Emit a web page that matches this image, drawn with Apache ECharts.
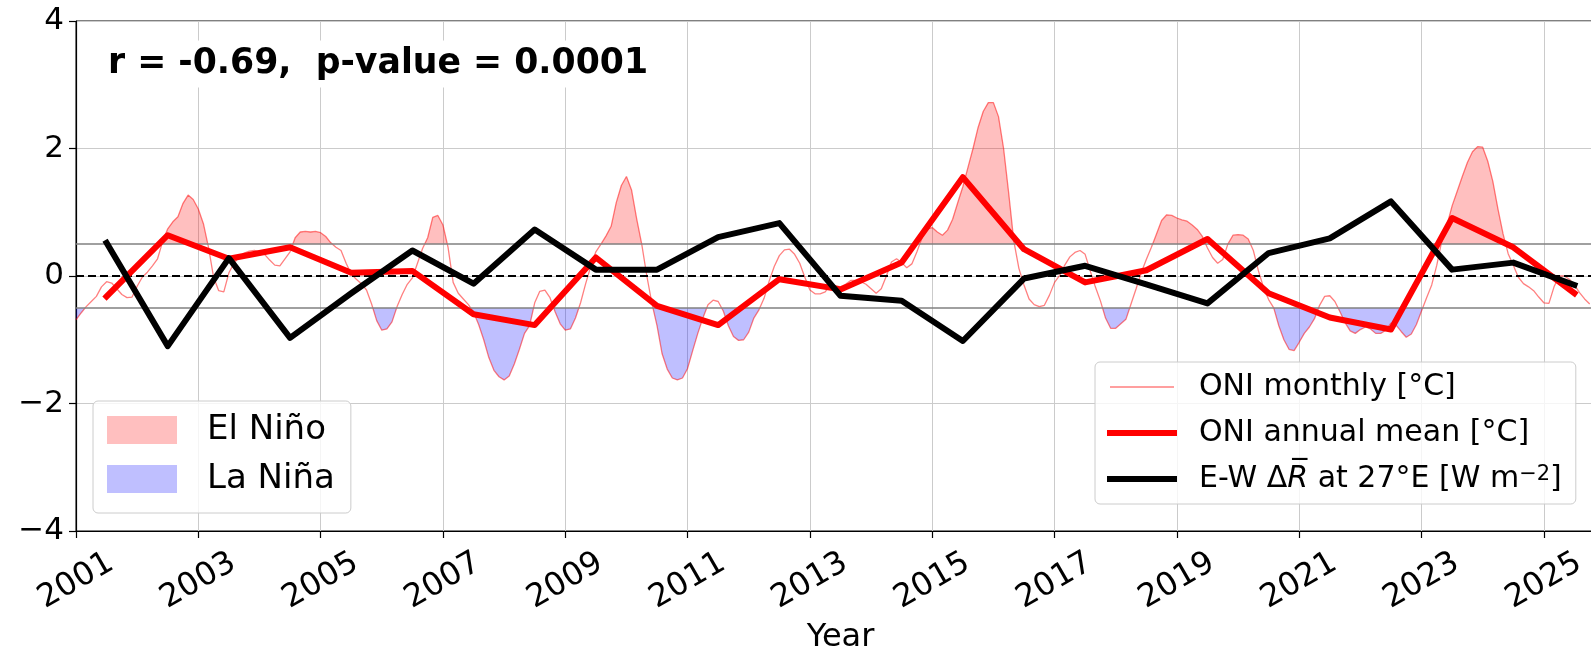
<!DOCTYPE html>
<html>
<head>
<meta charset="utf-8">
<script src="https://cdn.jsdelivr.net/npm/echarts@6/dist/echarts.min.js"></script>
<style>
  html, body { margin: 0; padding: 0; background: #fff; }
  #chart { width: 1591px; height: 653px; }
</style>
</head>
<body>
<div id="chart"></div>
<script>
// Monthly ONI [°C], January 2001 onward
const oniStartYear = 2001;
const oniMonthly = [
  -0.69, -0.58, -0.48, -0.40, -0.32, -0.17, -0.09, -0.11, -0.20, -0.29, -0.34, -0.33, // 2001
  -0.16, -0.02, 0.06, 0.16, 0.27, 0.54, 0.74, 0.85, 0.93, 1.14, 1.27, 1.20,           // 2002
  1.05, 0.82, 0.45, -0.02, -0.23, -0.25, 0.05, 0.20, 0.30, 0.36, 0.39, 0.40,          // 2003
  0.38, 0.34, 0.25, 0.17, 0.16, 0.27, 0.38, 0.60, 0.69, 0.70, 0.69, 0.70,             // 2004
  0.68, 0.62, 0.52, 0.45, 0.40, 0.20, 0.03, -0.05, -0.12, -0.22, -0.44, -0.70,        // 2005
  -0.85, -0.83, -0.72, -0.48, -0.29, -0.13, -0.03, 0.20, 0.43, 0.60, 0.92, 0.95,      // 2006
  0.80, 0.45, -0.10, -0.27, -0.36, -0.45, -0.57, -0.76, -1.00, -1.28, -1.48, -1.58,   // 2007
  -1.63, -1.57, -1.38, -1.15, -0.90, -0.78, -0.42, -0.24, -0.22, -0.34, -0.56, -0.75, // 2008
  -0.85, -0.83, -0.66, -0.42, -0.12, 0.15, 0.38, 0.50, 0.63, 0.78, 1.15, 1.42,        // 2009
  1.56, 1.35, 0.90, 0.50, 0.00, -0.43, -0.78, -1.22, -1.46, -1.60, -1.63, -1.60,      // 2010
  -1.45, -1.17, -0.90, -0.66, -0.45, -0.38, -0.40, -0.55, -0.78, -0.95, -1.01, -1.00, // 2011
  -0.88, -0.66, -0.53, -0.35, -0.08, 0.15, 0.32, 0.41, 0.42, 0.34, 0.20, -0.02,       // 2012
  -0.22, -0.28, -0.28, -0.25, -0.14, -0.15, -0.17, -0.13, -0.07, -0.07, -0.09, -0.13, // 2013
  -0.20, -0.27, -0.20, 0.00, 0.22, 0.27, 0.21, 0.13, 0.19, 0.38, 0.60, 0.74,          // 2014
  0.76, 0.69, 0.64, 0.72, 0.89, 1.15, 1.40, 1.70, 2.00, 2.33, 2.58, 2.72,             // 2015
  2.72, 2.50, 2.00, 1.30, 0.55, 0.12, -0.14, -0.36, -0.45, -0.48, -0.46, -0.30,       // 2016
  -0.10, 0.01, 0.17, 0.30, 0.37, 0.40, 0.34, 0.08, -0.17, -0.39, -0.66, -0.82,        // 2017
  -0.82, -0.75, -0.68, -0.44, -0.20, 0.05, 0.26, 0.45, 0.66, 0.87, 0.96, 0.95,        // 2018
  0.91, 0.88, 0.86, 0.80, 0.73, 0.62, 0.44, 0.29, 0.20, 0.26, 0.50, 0.64,             // 2019
  0.65, 0.64, 0.58, 0.40, 0.08, -0.18, -0.37, -0.50, -0.78, -1.00, -1.15, -1.17,      // 2020
  -1.04, -0.90, -0.80, -0.67, -0.46, -0.32, -0.31, -0.40, -0.56, -0.73, -0.86, -0.90, // 2021
  -0.84, -0.80, -0.83, -0.90, -0.90, -0.85, -0.74, -0.77, -0.87, -0.96, -0.91, -0.76, // 2022
  -0.55, -0.34, -0.14, 0.17, 0.56, 0.80, 1.10, 1.33, 1.56, 1.78, 1.95, 2.03,          // 2023
  2.02, 1.80, 1.48, 1.05, 0.66, 0.35, 0.17, -0.02, -0.12, -0.17, -0.23, -0.33,        // 2024
  -0.42, -0.43, -0.17, 0.00, 0.00, -0.05, -0.14, -0.26, -0.36, -0.44                  // 2025
];

// Annual series, plotted at mid-year
const annualYears = [2001, 2002, 2003, 2004, 2005, 2006, 2007, 2008, 2009, 2010, 2011, 2012, 2013,
                     2014, 2015, 2016, 2017, 2018, 2019, 2020, 2021, 2022, 2023, 2024, 2025];
const oniAnnual = [-0.32, 0.64, 0.27, 0.45, 0.05, 0.08, -0.60, -0.77, 0.29, -0.47, -0.77, -0.05, -0.21,
                   0.21, 1.55, 0.42, -0.10, 0.09, 0.58, -0.27, -0.65, -0.84, 0.91, 0.45, -0.27];
const ewDeltaR = [0.52, -1.10, 0.28, -0.97, -0.27, 0.40, -0.12, 0.73, 0.10, 0.10, 0.61, 0.83, -0.31,
                  -0.39, -1.02, -0.04, 0.16, -0.13, -0.43, 0.36, 0.59, 1.17, 0.10, 0.21, -0.14];

// Axes
const xTickYears = [2001, 2003, 2005, 2007, 2009, 2011, 2013, 2015, 2017, 2019, 2021, 2023, 2025];
const xRange = [2001, 2026];
const yRange = [-4, 4];
const yStep = 2;

// ENSO thresholds
const elNinoThreshold = 0.5;
const laNinaThreshold = -0.5;

const names = {
  nino: 'El Niño',
  nina: 'La Niña',
  monthly: 'ONI monthly [°C]',
  annual: 'ONI annual mean [°C]',
  ew: 'E-W ΔR at 27°E [W m−2]'
};
const statsText = 'r = -0.69,  p-value = 0.0001';

const FONT = 'DejaVu Sans';

const monthlyPts = oniMonthly.map((v, i) => [oniStartYear + i / 12, v]);
const annualOniPts = annualYears.map((y, i) => [y + 0.5, oniAnnual[i]]);
const ewPts = annualYears.map((y, i) => [y + 0.5, ewDeltaR[i]]);

// Point where the segment a-b crosses the level thr
function crossing(a, b, thr) {
  const f = (thr - a[1]) / (b[1] - a[1]);
  return [a[0] + f * (b[0] - a[0]), thr];
}

// Shade the area between the monthly curve and a threshold, above or below it
function thresholdFill(thr, above, color) {
  return function (params, api) {
    if (params.dataIndex !== 0) return null;
    const polys = [];
    let cur = null;
    for (let i = 0; i < monthlyPts.length; i++) {
      const p = monthlyPts[i];
      const inside = above ? p[1] > thr : p[1] < thr;
      if (inside) {
        if (!cur) {
          cur = [i > 0 ? crossing(monthlyPts[i - 1], p, thr) : [p[0], thr]];
        }
        cur.push(p);
      } else if (cur) {
        cur.push(crossing(monthlyPts[i - 1], p, thr));
        polys.push(cur);
        cur = null;
      }
    }
    if (cur) {
      cur.push([monthlyPts[monthlyPts.length - 1][0], thr]);
      polys.push(cur);
    }
    return {
      type: 'group',
      children: polys.map(poly => ({
        type: 'polygon',
        shape: { points: poly.map(pt => api.coord(pt)) },
        style: { fill: color }
      }))
    };
  };
}

const ninoColor = 'rgba(255,0,0,0.25)';
const ninaColor = 'rgba(0,0,255,0.25)';

const chart = echarts.init(document.getElementById('chart'), null, { renderer: 'canvas' });

chart.setOption({
  animation: false,
  backgroundColor: '#ffffff',
  textStyle: { fontFamily: FONT, color: '#000' },
  // the plot box runs a little past the right edge of the canvas
  grid: {
    left: 76, top: 21, width: 1529, height: 510,
    outerBoundsMode: 'none',
    containLabel: false,
    show: true, borderColor: '#000', borderWidth: 1, backgroundColor: 'transparent'
  },
  xAxis: {
    type: 'value',
    min: xRange[0], max: xRange[1],
    name: 'Year',
    nameLocation: 'middle',
    nameGap: 91,
    nameTextStyle: { fontSize: 32, color: '#000', fontFamily: FONT },
    axisLine: { show: true, onZero: false, lineStyle: { color: '#000', width: 1.2 } },
    axisTick: { show: true, customValues: xTickYears, length: 7, lineStyle: { color: '#000', width: 1.2 } },
    axisLabel: {
      customValues: xTickYears,
      rotate: 30, align: 'center', verticalAlign: 'middle', margin: 50,
      fontSize: 32, color: '#000', fontFamily: FONT,
      formatter: v => String(v)
    },
    splitLine: { show: true, lineStyle: { color: '#cbcbcb', width: 1 } }
  },
  yAxis: {
    type: 'value',
    min: yRange[0], max: yRange[1], interval: yStep,
    axisLine: { show: true, onZero: false, lineStyle: { color: '#000', width: 1.2 } },
    axisTick: { show: true, length: 7, lineStyle: { color: '#000', width: 1.2 } },
    axisLabel: {
      margin: 12, fontSize: 31, color: '#000', fontFamily: FONT,
      formatter: v => (v < 0 ? '\u2212' + Math.abs(v) : String(v))
    },
    splitLine: { show: true, lineStyle: { color: '#cbcbcb', width: 1 } }
  },
  legend: [
    {
      data: [{ name: names.nino, icon: 'rect' }, { name: names.nina, icon: 'rect' }],
      orient: 'vertical',
      left: 93, top: 401,
      itemWidth: 70, itemHeight: 28, itemGap: 15,
      padding: [12, 16, 17, 14],
      backgroundColor: 'rgba(255,255,255,0.8)',
      borderColor: '#cccccc', borderWidth: 1, borderRadius: 5,
      selectedMode: false,
      textStyle: { fontSize: 34, color: '#000', fontFamily: FONT, padding: [0, 0, 0, 25] }
    },
    {
      data: [names.monthly, names.annual, names.ew],
      orient: 'vertical',
      left: 1095, top: 362,
      itemWidth: 64, itemHeight: 20, itemGap: 16,
      padding: [10, 14, 10, 12],
      backgroundColor: 'rgba(255,255,255,0.8)',
      borderColor: '#cccccc', borderWidth: 1, borderRadius: 5,
      selectedMode: false,
      itemStyle: { opacity: 0 },
      lineStyle: { width: 'inherit' },
      textStyle: {
        fontSize: 30, color: '#000', fontFamily: FONT, padding: [0, 0, 0, 20],
        rich: {
          it: { fontSize: 30, fontStyle: 'italic', fontFamily: FONT, color: '#000' },
          sup: { fontSize: 21, fontFamily: FONT, color: '#000', verticalAlign: 'top' }
        }
      },
      formatter: name => name === names.ew
        ? 'E-W Δ{it|R\u0305} at 27°E [W m{sup|\u22122}]'
        : name
    }
  ],
  graphic: [
    {
      // correlation note on a white box that masks the grid lines behind it
      type: 'text',
      x: 100, y: 64,
      z: 100,
      silent: true,
      style: {
        text: statsText,
        font: 'bold 34.7px "DejaVu Sans"',
        fill: '#000',
        align: 'left',
        verticalAlign: 'middle',
        backgroundColor: '#ffffff',
        padding: [6, 10, 6, 8]
      }
    }
  ],
  series: [
    {
      // reference levels: ±0.5 °C thresholds and zero
      type: 'line',
      data: [],
      silent: true,
      z: 2,
      markLine: {
        silent: true,
        symbol: ['none', 'none'],
        label: { show: false },
        emphasis: { disabled: true },
        data: [
          { yAxis: elNinoThreshold, lineStyle: { color: '#808080', width: 1.5, type: 'solid' } },
          { yAxis: laNinaThreshold, lineStyle: { color: '#808080', width: 1.5, type: 'solid' } },
          { yAxis: 0, lineStyle: { color: '#000', width: 2, type: [8, 4] } }
        ]
      }
    },
    {
      name: names.nino,
      type: 'custom',
      data: monthlyPts,
      renderItem: thresholdFill(elNinoThreshold, true, ninoColor),
      itemStyle: { color: ninoColor },
      silent: true,
      clip: true,
      z: 3
    },
    {
      name: names.nina,
      type: 'custom',
      data: monthlyPts,
      renderItem: thresholdFill(laNinaThreshold, false, ninaColor),
      itemStyle: { color: ninaColor },
      silent: true,
      clip: true,
      z: 3
    },
    {
      name: names.monthly,
      type: 'line',
      data: monthlyPts,
      symbol: 'none',
      silent: true,
      lineStyle: { color: 'rgba(255,0,0,0.5)', width: 1.3 },
      itemStyle: { color: 'rgba(255,0,0,0.5)' },
      z: 4
    },
    {
      name: names.annual,
      type: 'line',
      data: annualOniPts,
      symbol: 'none',
      silent: true,
      lineStyle: { color: '#ff0000', width: 6, cap: 'square', join: 'round' },
      itemStyle: { color: '#ff0000' },
      z: 5
    },
    {
      name: names.ew,
      type: 'line',
      data: ewPts,
      symbol: 'none',
      silent: true,
      lineStyle: { color: '#000000', width: 6, cap: 'square', join: 'round' },
      itemStyle: { color: '#000000' },
      z: 6
    }
  ]
});
</script>
</body>
</html>
